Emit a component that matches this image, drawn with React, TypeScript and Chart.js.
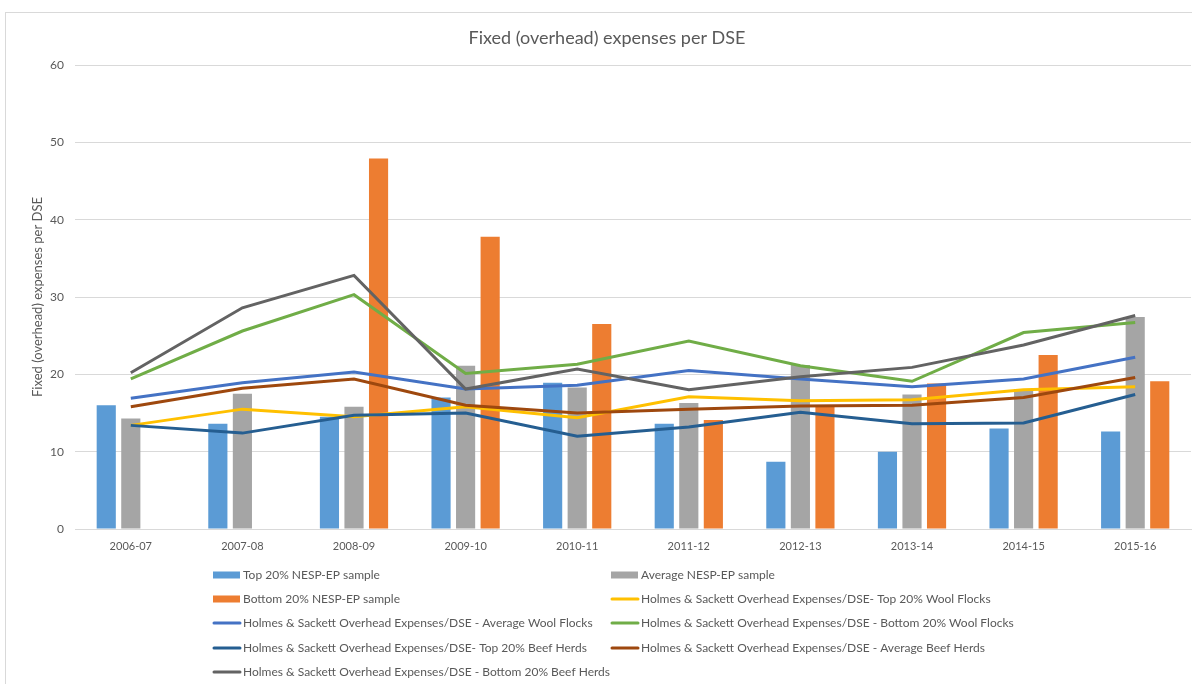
import React, { useEffect, useRef } from "react";
import { Chart, registerables } from "chart.js";

Chart.register(...registerables);

const categories = ["2006-07", "2007-08", "2008-09", "2009-10", "2010-11", "2011-12", "2012-13", "2013-14", "2014-15", "2015-16"];

const top20Sample = [16.0, 13.6, 14.5, 17.0, 18.9, 13.6, 8.7, 10.0, 13.0, 12.6];
const avgSample = [14.3, 17.5, 15.8, 21.1, 18.3, 16.3, 21.2, 17.4, 18.1, 27.4];
const bottom20Sample = [null, null, 47.9, 37.8, 26.5, 14.1, 15.9, 18.8, 22.5, 19.1];

const hsTopWool = [13.4, 15.5, 14.5, 15.8, 14.4, 17.1, 16.6, 16.7, 18.0, 18.4];
const hsAvgWool = [16.9, 18.9, 20.3, 18.1, 18.6, 20.5, 19.4, 18.4, 19.4, 22.2];
const hsBottomWool = [19.4, 25.6, 30.3, 20.1, 21.3, 24.3, 21.1, 19.1, 25.4, 26.7];
const hsTopBeef = [13.4, 12.4, 14.7, 15.0, 12.0, 13.2, 15.1, 13.6, 13.7, 17.4];
const hsAvgBeef = [15.8, 18.2, 19.4, 16.0, 15.0, 15.5, 15.9, 16.0, 17.0, 19.6];
const hsBottomBeef = [20.2, 28.6, 32.8, 18.1, 20.7, 18.0, 19.7, 20.9, 23.8, 27.6];

const yTicks = [0, 10, 20, 30, 40, 50, 60];

const chartTitle = "Fixed (overhead) expenses per DSE";
const yTitle = "Fixed (overhead) expenses per DSE";

const FONT = "Lato, 'Open Sans', sans-serif";
const TEXT = "#595959";
const GRID = "#D9D9D9";

const extrasPlugin = {
  id: "extras",
  beforeDraw(chart: any) {
    const ctx = chart.ctx;
    ctx.save();
    ctx.fillStyle = "#ffffff";
    ctx.fillRect(0, 0, chart.width, chart.height);
    ctx.strokeStyle = GRID;
    ctx.lineWidth = 1;
    ctx.strokeRect(5.5, 12.5, chart.width + 20, chart.height + 20);
    ctx.restore();
  },
  afterDraw(chart: any) {
    const ctx = chart.ctx;
    ctx.save();
    // title
    ctx.fillStyle = TEXT;
    ctx.font = `18px ${FONT}`;
    ctx.textAlign = "center";
    ctx.textBaseline = "middle";
    ctx.fillText(chartTitle, 607, 38);
    // legend
    const cols = [213, 611];
    const rows = [575, 599, 623, 648, 672];
    ctx.font = `12px ${FONT}`;
    ctx.textAlign = "left";
    chart.data.datasets.forEach((ds: any, i: number) => {
      const x = cols[i % 2];
      const y = rows[Math.floor(i / 2)];
      if (ds.type === "bar") {
        ctx.fillStyle = ds.backgroundColor;
        ctx.fillRect(x, y - 3.5, 27, 7);
      } else {
        ctx.strokeStyle = ds.borderColor;
        ctx.lineWidth = 3;
        ctx.lineCap = "round";
        ctx.beginPath();
        ctx.moveTo(x + 1, y);
        ctx.lineTo(x + 27, y);
        ctx.stroke();
      }
      ctx.fillStyle = TEXT;
      ctx.fillText(ds.label, x + 30, y + 0.5);
    });
    ctx.restore();
  },
};

export default function App() {
  const ref = useRef<HTMLCanvasElement | null>(null);

  useEffect(() => {
    if (!ref.current) return;
    const barDs = (label: string, data: (number | null)[], color: string) => ({
      type: "bar" as const,
      label,
      data,
      backgroundColor: color,
      borderWidth: 0,
      order: 20,
      categoryPercentage: 0.66,
      barPercentage: 0.78,
    });
    const lineDs = (label: string, data: number[], color: string, order: number) => ({
      type: "line" as const,
      label,
      data,
      borderColor: color,
      backgroundColor: color,
      borderWidth: 3,
      pointRadius: 0,
      tension: 0,
      fill: false,
      order,
    });
    const chart = new Chart(ref.current, {
      type: "bar",
      data: {
        labels: categories,
        datasets: [
          barDs("Top 20% NESP-EP sample", top20Sample, "#5B9BD5"),
          barDs("Average NESP-EP sample", avgSample, "#A5A5A5"),
          barDs("Bottom 20% NESP-EP sample", bottom20Sample, "#ED7D31"),
          lineDs("Holmes & Sackett Overhead Expenses/DSE- Top 20% Wool Flocks", hsTopWool, "#FFC000", 6),
          lineDs("Holmes & Sackett Overhead Expenses/DSE - Average Wool Flocks", hsAvgWool, "#4472C4", 5),
          lineDs("Holmes & Sackett Overhead Expenses/DSE - Bottom 20% Wool Flocks", hsBottomWool, "#70AD47", 4),
          lineDs("Holmes & Sackett Overhead Expenses/DSE- Top 20% Beef Herds", hsTopBeef, "#255E91", 3),
          lineDs("Holmes & Sackett Overhead Expenses/DSE - Average Beef Herds", hsAvgBeef, "#9E480E", 2),
          lineDs("Holmes & Sackett Overhead Expenses/DSE - Bottom 20% Beef Herds", hsBottomBeef, "#636363", 1),
        ] as any,
      },
      options: {
        animation: false,
        responsive: true,
        maintainAspectRatio: false,
        layout: { padding: { left: 26, right: 1, top: 65, bottom: 125 } },
        plugins: {
          legend: { display: false },
          title: { display: false },
          tooltip: { enabled: false },
        },
        scales: {
          x: {
            type: "category",
            offset: true,
            grid: { display: false, drawTicks: false },
            border: { display: true, color: GRID, width: 1 },
            ticks: { color: TEXT, font: { family: FONT, size: 11 }, padding: 11, maxRotation: 0, autoSkip: false },
            afterFit: (s: any) => { s.height = 30; },
          },
          y: {
            min: yTicks[0],
            max: yTicks[yTicks.length - 1],
            afterBuildTicks: (s: any) => { s.ticks = yTicks.map((v) => ({ value: v })); },
            grid: { color: GRID, lineWidth: 1, drawTicks: false },
            border: { display: false },
            ticks: { color: TEXT, font: { family: FONT, size: 12 }, padding: 11 },
            title: { display: true, text: yTitle, color: TEXT, font: { family: FONT, size: 13 }, padding: { top: 4, bottom: 0 } },
            afterFit: (s: any) => { s.width = 49; },
          },
        },
      },
      plugins: [extrasPlugin],
    });
    return () => chart.destroy();
  }, []);

  return (
    <div style={{ position: "absolute", left: 0, top: 0, width: 1192, height: 684 }}>
      <canvas ref={ref} />
    </div>
  );
}
